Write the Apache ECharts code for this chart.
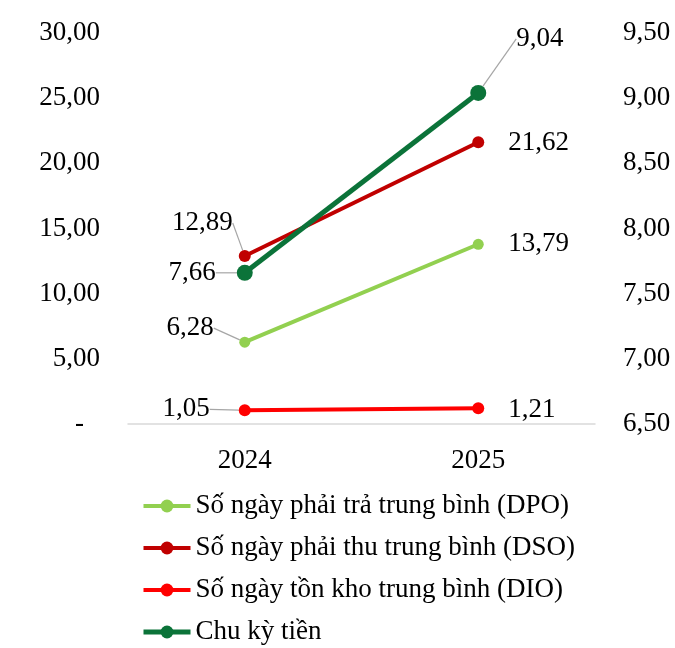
<!DOCTYPE html>
<html>
<head>
<meta charset="utf-8">
<script src="https://cdn.jsdelivr.net/npm/echarts@6/dist/echarts.min.js"></script>
<style>
  html, body { margin: 0; padding: 0; background: #fff; }
  #chart { width: 675px; height: 648px; }
</style>
</head>
<body>
<div id="chart"></div>
<script>
// Categories (years)
const years = ['2024', '2025'];

// Days payable outstanding, sales outstanding, inventory outstanding (left axis)
const dpo = [6.28, 13.79];
const dso = [12.89, 21.62];
const dio = [1.05, 1.21];
// Cash conversion cycle (right axis)
const cashCycle = [7.66, 9.04];

const seriesNames = [
  'Số ngày phải trả trung bình (DPO)',
  'Số ngày phải thu trung bình (DSO)',
  'Số ngày tồn kho trung bình (DIO)',
  'Chu kỳ tiền'
];

const FONT = '"Liberation Serif", "Times New Roman", serif';
const FS = 27;
const fmt = v => v.toFixed(2).replace('.', ',');

// Label nudges [seriesIndex][dataIndex] -> [dx, dy]
const labelShift = [
  [[0, -14], [0, 0]],
  [[19, -33], [0, 1]],
  [[-4, -1], [0, 2]],
  [[2, 0], [8, -54]]
];

function makeSeries(name, data, color, yAxisIndex, symbolSize, width) {
  const half = symbolSize / 2;
  return {
    name: name,
    type: 'line',
    data: data.map((v, di) => di === 0
      ? { value: v, label: { position: 'left', distance: 31 - half } }
      : { value: v, labelLine: { show: yAxisIndex === 1 } }),
    yAxisIndex: yAxisIndex,
    symbol: 'circle',
    symbolSize: symbolSize,
    itemStyle: { color: color },
    lineStyle: { color: color, width: width },
    label: {
      show: true,
      fontFamily: FONT,
      fontSize: FS,
      color: '#000',
      formatter: p => fmt(p.value),
      position: 'right',
      distance: 30 - half
    },
    labelLine: {
      show: true,
      lineStyle: { color: '#a6a6a6', width: 1.2 }
    },
    emphasis: { disabled: true },
    z: yAxisIndex === 1 ? 5 : 3
  };
}

const series = [
  makeSeries(seriesNames[0], dpo, '#92d050', 0, 11, 4),
  makeSeries(seriesNames[1], dso, '#c00000', 0, 12, 4),
  makeSeries(seriesNames[2], dio, '#ff0000', 0, 12, 4),
  makeSeries(seriesNames[3], cashCycle, '#0b7339', 1, 16, 5)
];

const legendColors = ['#92d050', '#c00000', '#ff0000', '#0b7339'];

const option = {
  animation: false,
  backgroundColor: '#fff',
  textStyle: { fontFamily: FONT },
  grid: { left: 128, right: 80, top: 33, bottom: 224, containLabel: false },
  xAxis: {
    type: 'category',
    data: years,
    boundaryGap: true,
    axisLine: { show: true, lineStyle: { color: '#d9d9d9', width: 1.5 } },
    axisTick: { show: false },
    axisLabel: { fontFamily: FONT, fontSize: FS, color: '#000', margin: 23 }
  },
  yAxis: [
    {
      type: 'value', min: 0, max: 30, interval: 5,
      axisLine: { show: false }, axisTick: { show: false },
      splitLine: { show: false },
      axisLabel: {
        fontFamily: FONT, fontSize: FS, color: '#000', margin: 28,
        formatter: v => v === 0 ? '{dash|-}' : fmt(v),
        rich: { dash: { fontFamily: FONT, fontSize: FS, color: '#000', padding: [0, 16, 0, 0] } }
      }
    },
    {
      type: 'value', min: 6.5, max: 9.5, interval: 0.5,
      axisLine: { show: false }, axisTick: { show: false },
      splitLine: { show: false },
      axisLabel: {
        fontFamily: FONT, fontSize: FS, color: '#000', margin: 28,
        formatter: v => fmt(v)
      }
    }
  ],
  legend: {
    orient: 'vertical',
    left: 141,
    top: 492,
    padding: 0,
    itemWidth: 47,
    itemHeight: 16,
    itemGap: 14,
    itemStyle: { borderWidth: 0 },
    textStyle: { fontFamily: FONT, fontSize: FS, color: '#000', lineHeight: 28 },
    data: seriesNames.map((n, i) => ({
      name: n,
      lineStyle: { width: i === 3 ? 5 : 4, color: legendColors[i] }
    }))
  },
  labelLayout: function (p) {
    const s = labelShift[p.seriesIndex] && labelShift[p.seriesIndex][p.dataIndex];
    return s ? { dx: s[0], dy: s[1] } : {};
  },
  series: series
};

const chart = echarts.init(document.getElementById('chart'), null, { renderer: 'canvas' });
chart.setOption(option);
</script>
</body>
</html>
